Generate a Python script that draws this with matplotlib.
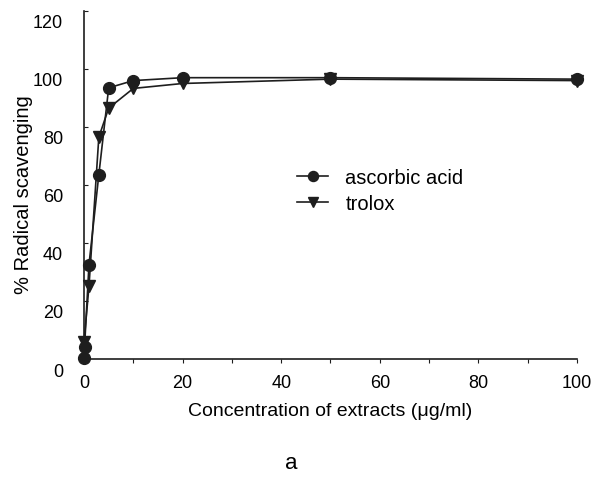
import matplotlib
matplotlib.use("Agg")
import matplotlib.pyplot as plt
from matplotlib.transforms import ScaledTranslation

plt.rcParams["font.family"] = ["Liberation Sans", "DejaVu Sans"]

# concentration (ug/ml) and % radical scavenging
ASC_X = [0, 0.1, 1, 3, 5, 10, 20, 50, 100]
ASC_Y = [0.5, 4, 32.5, 63.5, 93.5, 96, 97, 97, 96.5]
TRO_X = [0, 1, 3, 5, 10, 20, 50, 100]
TRO_Y = [6, 25, 76.5, 86.5, 93.3, 95, 96.5, 96]

X_TICKS = [0, 20, 40, 60, 80, 100]
Y_TICKS = [0, 20, 40, 60, 80, 100, 120]

INK = "#1e1e1e"

fig = plt.figure(figsize=(5.96, 4.89), dpi=100)
ax = fig.add_axes([0.141, 0.2638, 0.827, 0.7117])

ax.plot(ASC_X, ASC_Y, color=INK, lw=1.2, marker="o", ms=8.5, mfc=INK, mec=INK,
        label="ascorbic acid", clip_on=False, zorder=3)
ax.plot(TRO_X, TRO_Y, color=INK, lw=1.2, marker="v", ms=8.5, mfc=INK, mec=INK,
        label="trolox", clip_on=False, zorder=3)

ax.set_xlim(0, 100)
ax.set_ylim(0, 120)
ax.set_xticks(X_TICKS)
ax.set_xticks(range(0, 101, 10), minor=True)
ax.set_yticks(Y_TICKS)

for s in ("top", "right"):
    ax.spines[s].set_visible(False)
for s in ("left", "bottom"):
    ax.spines[s].set_color(INK)
    ax.spines[s].set_linewidth(1.2)

ax.tick_params(axis="x", which="both", direction="out", length=3, width=0.8,
               color=INK, labelsize=13, pad=8)
ax.tick_params(axis="y", direction="in", length=3, width=0.8, color=INK,
               labelsize=13, pad=15)

# y tick labels sit a little below their ticks in the original
off = ScaledTranslation(0, -10 / 100, fig.dpi_scale_trans)
for lab in ax.get_yticklabels():
    lab.set_transform(lab.get_transform() + off)

ax.set_ylabel("% Radical scavenging", fontsize=14.5)
ax.yaxis.set_label_coords(-0.103, 0.474)
ax.set_xlabel("Concentration of extracts (\u03bcg/ml)", fontsize=14, labelpad=8)
fig.text(0.488, 0.053, "a", fontsize=16, ha="center", va="center")

ax.legend(loc="upper left", bbox_to_anchor=(0.432, 0.55), frameon=False,
          fontsize=14.5, handlelength=1.55, handletextpad=0.85, labelspacing=0.38,
          borderpad=0, borderaxespad=0, markerscale=0.85)

fig.savefig("out.png", dpi=100)
plt.close(fig)
